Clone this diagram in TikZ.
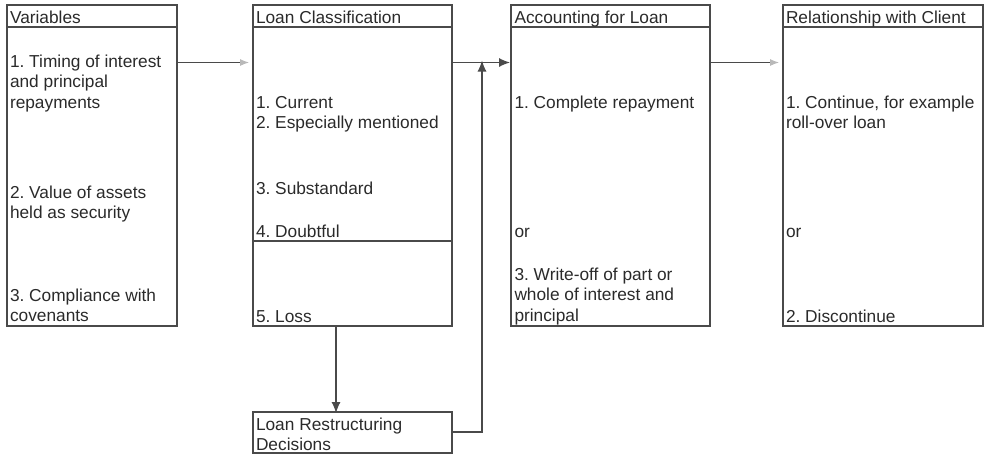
\documentclass[tikz,border=0pt]{standalone}
\usepackage{fontspec}
\setmainfont{Liberation Sans}
\usetikzlibrary{arrows.meta}
\definecolor{ln}{HTML}{4A4A4A}
\definecolor{tx}{HTML}{2A2A2A}
\frenchspacing
\begin{document}
\begin{tikzpicture}[x=1pt,y=-1pt,
  box/.style={draw=ln, line width=1.2pt, rectangle, inner sep=0pt, outer sep=0pt, anchor=north west},
  sep/.style={draw=ln, line width=1.1pt},
  txt/.style={anchor=base west, inner sep=0pt, outer sep=0pt, text=tx, font=\fontsize{17.3}{20}\selectfont},
  conn/.style={draw=ln, line width=1.1pt},
  solidtip/.style={conn, -{Latex[length=11pt,width=9pt]}},
  fainttip/.style={conn, -{Latex[length=9pt,width=7pt,color=gray!55]}}]
\useasboundingbox (0,0) rectangle (989,456);
% boxes
\node[box, minimum width=170pt, minimum height=321pt] (var) at (7,5) {};
\node[box, minimum width=199pt, minimum height=321pt] (cls) at (253,5) {};
\node[box, minimum width=199pt, minimum height=321pt] (acc) at (511,5) {};
\node[box, minimum width=200pt, minimum height=321pt] (rel) at (783,5) {};
\node[box, minimum width=199pt, minimum height=41pt] (rst) at (253,412) {};
% header and divider lines
\coordinate (hy) at (0,27);
\coordinate (dy) at (0,241);
\draw[sep] (var.west |- hy) -- (var.east |- hy);
\draw[sep] (cls.west |- hy) -- (cls.east |- hy);
\draw[sep] (acc.west |- hy) -- (acc.east |- hy);
\draw[sep] (rel.west |- hy) -- (rel.east |- hy);
\draw[sep] (cls.west |- dy) -- (cls.east |- dy);
% texts: Variables
\node[txt] (v0) at (10,23) {Variables};
\node[txt] (v1) at (10,67) {1. Timing of interest};
\node[txt] (v2) at (10,87.5) {and principal};
\node[txt] (v3) at (10,108) {repayments};
\node[txt] (v4) at (10,198) {2. Value of assets};
\node[txt] (v5) at (10,218.5) {held as security};
\node[txt] (v6) at (10,301) {3. Compliance with};
\node[txt] (v7) at (10,321.5) {covenants};
% Loan Classification
\node[txt] (c0) at (256,23) {Loan Classification};
\node[txt] (c1) at (256,108) {1. Current};
\node[txt] (c2) at (256,128.5) {2. Especially mentioned};
\node[txt] (c3) at (256,194) {3. Substandard};
\node[txt] (c4) at (256,237) {4. Doubtful};
\node[txt] (c5) at (256,322) {5. Loss};
% Accounting for Loan
\node[txt] (a0) at (514.5,23) {Accounting for Loan};
\node[txt] (a1) at (514.5,108) {1. Complete repayment};
\node[txt] (a2) at (514.5,237) {or};
\node[txt] (a3) at (514.5,280) {3. Write-off of part or};
\node[txt] (a4) at (514.5,300.5) {whole of interest and};
\node[txt] (a5) at (514.5,321.5) {principal};
% Relationship with Client
\node[txt] (r0) at (786,23) {Relationship with Client};
\node[txt] (r1) at (786,108) {1. Continue, for example};
\node[txt] (r2) at (786,128.5) {roll-over loan};
\node[txt] (r3) at (786,237) {or};
\node[txt] (r4) at (786,322) {2. Discontinue};
% Loan Restructuring
\node[txt] (s1) at (256,430) {Loan Restructuring};
\node[txt] (s2) at (256,450) {Decisions};
% connectors
\coordinate (ay) at (0,62.5);
\coordinate (dx) at (336,0);
\coordinate (ux) at (482,0);
\coordinate (ry) at (0,432);
\draw[fainttip] (var.east |- ay) -- ([xshift=-4pt]cls.west |- ay);
\draw[solidtip] (cls.east |- ay) -- ([xshift=-1pt]acc.west |- ay);
\draw[fainttip] (acc.east |- ay) -- ([xshift=-4pt]rel.west |- ay);
\draw[solidtip] (cls.south -| dx) -- ([yshift=-1pt]rst.north -| dx);
\draw[solidtip] (rst.east |- ry) -| ([yshift=2pt]ux |- ay);
\end{tikzpicture}
\end{document}
